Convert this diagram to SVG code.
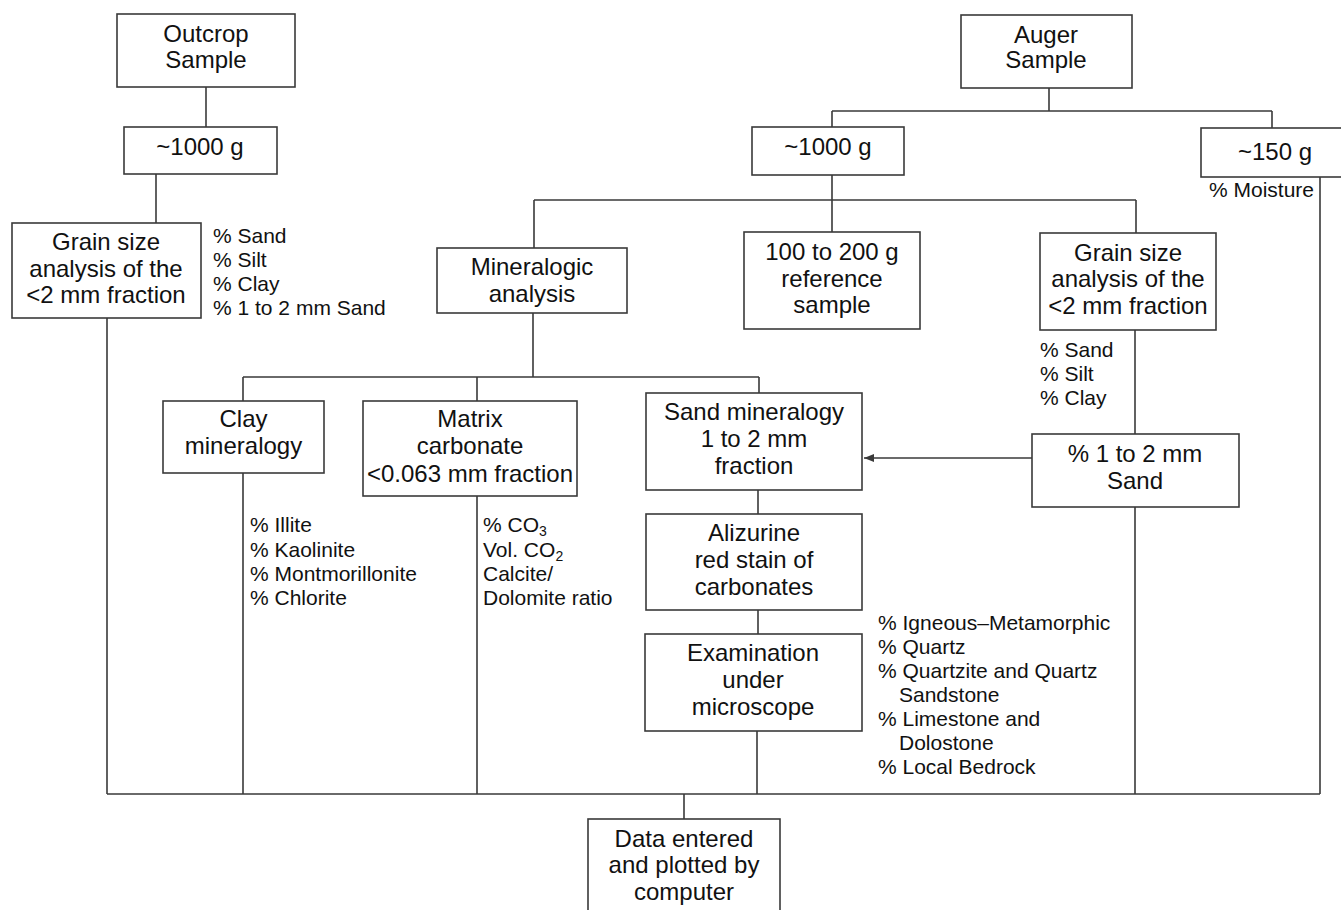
<svg xmlns="http://www.w3.org/2000/svg" width="1341" height="910" viewBox="0 0 1341 910">
<style>
.box{fill:#fff;stroke:#3a3a3a;stroke-width:1.6}
.ln{fill:none;stroke:#3a3a3a;stroke-width:1.6}
.t{font-family:"Liberation Sans",Arial,Helvetica,sans-serif;font-size:24px;fill:#111;text-anchor:middle}
.l{font-family:"Liberation Sans",Arial,Helvetica,sans-serif;font-size:21px;fill:#111}
.sub{font-size:14px}
</style>
<defs>
<marker id="ah" viewBox="0 0 10 8" refX="10" refY="4" markerWidth="10" markerHeight="8" markerUnits="userSpaceOnUse" orient="auto">
<path d="M0,0 L10,4 L0,8 z" fill="#3a3a3a"/>
</marker>
</defs>
<rect width="1341" height="910" fill="#fff"/>
<g id="connectors">
<path class="ln" d="M206,87 V127"/>
<path class="ln" d="M156,174 V223"/>
<path class="ln" d="M1049,88 V111 M832,111 H1272 M832,111 V127 M1272,111 V128"/>
<path class="ln" d="M832,175 V232 M534,200 H1136 M534,200 V248 M1136,200 V233"/>
<path class="ln" d="M1135,330 V434"/>
<path class="ln" d="M533,313 V377 M243,377 H759 M243,377 V401 M477,377 V401 M759,377 V393"/>
<path class="ln" d="M758,490 V514 M758,610 V634 M757,731 V794"/>
<path class="ln" d="M1032,458 H864" marker-end="url(#ah)"/>
<path class="ln" d="M107,318 V794 M243,473 V794 M477,496 V794 M1135,507 V794 M1320,177 V794 M107,794 H1320 M684,794 V819"/>
</g>
<g id="outcrop-sample"><rect class="box" x="117" y="14" width="178" height="73"/><text class="t" x="206" y="42">Outcrop</text><text class="t" x="206" y="68">Sample</text></g>
<g id="outcrop-1000g"><rect class="box" x="124" y="127" width="153" height="47"/><text class="t" x="200" y="155">~1000 g</text></g>
<g id="grain-size-left"><rect class="box" x="12" y="223" width="189" height="95"/><text class="t" x="106" y="250">Grain size</text><text class="t" x="106" y="277">analysis of the</text><text class="t" x="106" y="303">&lt;2 mm fraction</text>
<text class="l" x="213" y="243">% Sand</text><text class="l" x="213" y="267">% Silt</text><text class="l" x="213" y="291">% Clay</text><text class="l" x="213" y="315">% 1 to 2 mm Sand</text></g>
<g id="auger-sample"><rect class="box" x="961" y="15" width="171" height="73"/><text class="t" x="1046" y="43">Auger</text><text class="t" x="1046" y="68">Sample</text></g>
<g id="auger-1000g"><rect class="box" x="752" y="127" width="152" height="48"/><text class="t" x="828" y="155">~1000 g</text></g>
<g id="auger-150g"><rect class="box" x="1201" y="128" width="150" height="49"/><text class="t" x="1275" y="160">~150 g</text><text class="l" x="1209" y="197">% Moisture</text></g>
<g id="reference-sample"><rect class="box" x="744" y="232" width="176" height="97"/><text class="t" x="832" y="260">100 to 200 g</text><text class="t" x="832" y="287">reference</text><text class="t" x="832" y="313">sample</text></g>
<g id="grain-size-right"><rect class="box" x="1040" y="233" width="176" height="97"/><text class="t" x="1128" y="261">Grain size</text><text class="t" x="1128" y="287">analysis of the</text><text class="t" x="1128" y="314">&lt;2 mm fraction</text>
<text class="l" x="1040" y="357">% Sand</text><text class="l" x="1040" y="381">% Silt</text><text class="l" x="1040" y="405">% Clay</text></g>
<g id="mineralogic-analysis"><rect class="box" x="437" y="248" width="190" height="65"/><text class="t" x="532" y="275">Mineralogic</text><text class="t" x="532" y="302">analysis</text></g>
<g id="clay-mineralogy"><rect class="box" x="163" y="401" width="161" height="72"/><text class="t" x="243.5" y="427">Clay</text><text class="t" x="243.5" y="454">mineralogy</text>
<text class="l" x="250" y="532">% Illite</text><text class="l" x="250" y="557">% Kaolinite</text><text class="l" x="250" y="581">% Montmorillonite</text><text class="l" x="250" y="605">% Chlorite</text></g>
<g id="matrix-carbonate"><rect class="box" x="363" y="401" width="214" height="95"/><text class="t" x="470" y="427">Matrix</text><text class="t" x="470" y="454">carbonate</text><text class="t" x="470" y="482">&lt;0.063 mm fraction</text>
<text class="l" x="483" y="532">% CO<tspan class="sub" dy="4">3</tspan></text><text class="l" x="483" y="557">Vol. CO<tspan class="sub" dy="4">2</tspan></text><text class="l" x="483" y="581">Calcite/</text><text class="l" x="483" y="605">Dolomite ratio</text></g>
<g id="sand-mineralogy"><rect class="box" x="646" y="393" width="216" height="97"/><text class="t" x="754" y="420">Sand mineralogy</text><text class="t" x="754" y="447">1 to 2 mm</text><text class="t" x="754" y="474">fraction</text></g>
<g id="sand-1-2mm"><rect class="box" x="1032" y="434" width="207" height="73"/><text class="t" x="1135" y="462">% 1 to 2 mm</text><text class="t" x="1135" y="489">Sand</text></g>
<g id="alizurine"><rect class="box" x="646" y="514" width="216" height="96"/><text class="t" x="754" y="541">Alizurine</text><text class="t" x="754" y="568">red stain of</text><text class="t" x="754" y="595">carbonates</text></g>
<g id="examination"><rect class="box" x="645" y="634" width="217" height="97"/><text class="t" x="753" y="661">Examination</text><text class="t" x="753" y="688">under</text><text class="t" x="753" y="715">microscope</text>
<text class="l" x="878" y="630">% Igneous–Metamorphic</text><text class="l" x="878" y="654">% Quartz</text><text class="l" x="878" y="678">% Quartzite and Quartz</text><text class="l" x="899" y="702">Sandstone</text><text class="l" x="878" y="726">% Limestone and</text><text class="l" x="899" y="750">Dolostone</text><text class="l" x="878" y="774">% Local Bedrock</text></g>
<g id="data-computer"><rect class="box" x="588" y="819" width="192" height="100"/><text class="t" x="684" y="847">Data entered</text><text class="t" x="684" y="873">and plotted by</text><text class="t" x="684" y="900">computer</text></g>
</svg>
